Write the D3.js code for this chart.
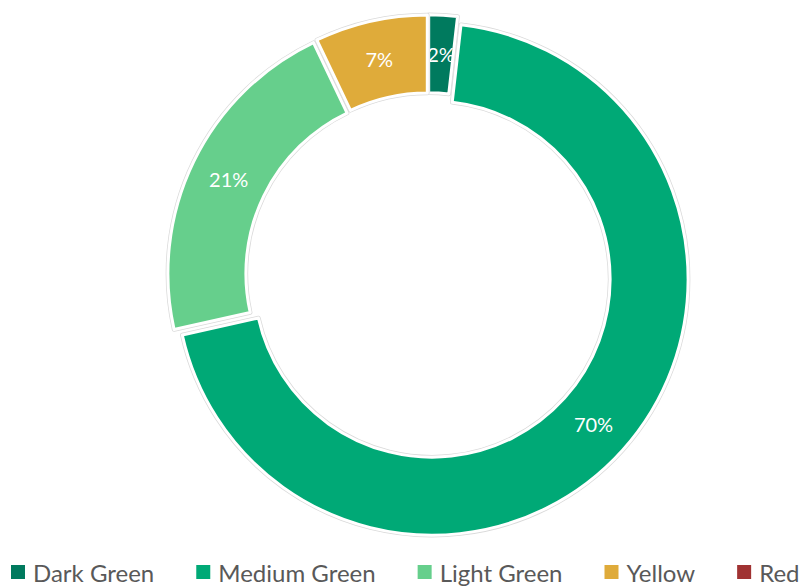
<!DOCTYPE html>
<html>
<head>
<meta charset="utf-8">
<script src="https://cdn.jsdelivr.net/npm/d3@7"></script>
<style>
  html, body { margin: 0; padding: 0; background: #fff; }
  svg { display: block; }
</style>
</head>
<body>
<svg id="chart" width="801" height="586"></svg>
<script>
const categories = ["Dark Green", "Medium Green", "Light Green", "Yellow", "Red"];
const values = [1.8, 69.7, 21.4, 7.1, 0];
const colors = ["#007A5E", "#00A976", "#66CF8C", "#DFAB3A", "#A03232"];

const W = 801, H = 586;
const cx = 428.4, cy = 275.8;
const outerR = 256, innerR = 178, explode = 5;
const fontFam = "Lato, 'Open Sans', sans-serif";

const svg = d3.select("#chart");
const total = d3.sum(values);

const pie = d3.pie().value(d => d.value).sort(null);
const arcs = pie(categories.map((c, i) => ({ name: c, value: values[i], color: colors[i] })));
const arc = d3.arc().innerRadius(innerR).outerRadius(outerR);
const labelArc = d3.arc().innerRadius((innerR + outerR) / 2).outerRadius((innerR + outerR) / 2);

const g = svg.append("g").attr("transform", `translate(${cx},${cy})`);

const slices = g.selectAll("g.slice").data(arcs.filter(d => d.value > 0)).join("g")
  .attr("class", "slice")
  .attr("transform", d => {
    const a = (d.startAngle + d.endAngle) / 2;
    return `translate(${explode * Math.sin(a)},${-explode * Math.cos(a)})`;
  });

slices.append("path").attr("d", arc).attr("fill", "none")
  .attr("stroke", "#dadada").attr("stroke-width", 4.5).attr("stroke-linejoin", "round");
slices.append("path").attr("d", arc).attr("fill", d => d.data.color)
  .attr("stroke", "#ffffff").attr("stroke-width", 3).attr("stroke-linejoin", "round");

slices.append("text")
  .attr("transform", d => `translate(${labelArc.centroid(d)})`)
  .attr("text-anchor", "middle")
  .attr("dy", "0.4em")
  .attr("fill", "#ffffff")
  .attr("font-family", fontFam)
  .attr("font-size", 20)
  .text(d => Math.round(d.value / total * 100) + "%");

// Legend
const legend = svg.append("g");
let x = 11;
const baseY = 582;
categories.forEach((c, i) => {
  legend.append("rect").attr("x", x).attr("y", baseY - 17).attr("width", 14).attr("height", 14)
    .attr("fill", colors[i]);
  const t = legend.append("text").attr("x", x + 22).attr("y", baseY)
    .attr("fill", "#595959").attr("font-family", fontFam).attr("font-size", 24).text(c);
  x += 22 + t.node().getComputedTextLength() + 42;
});
</script>
</body>
</html>
